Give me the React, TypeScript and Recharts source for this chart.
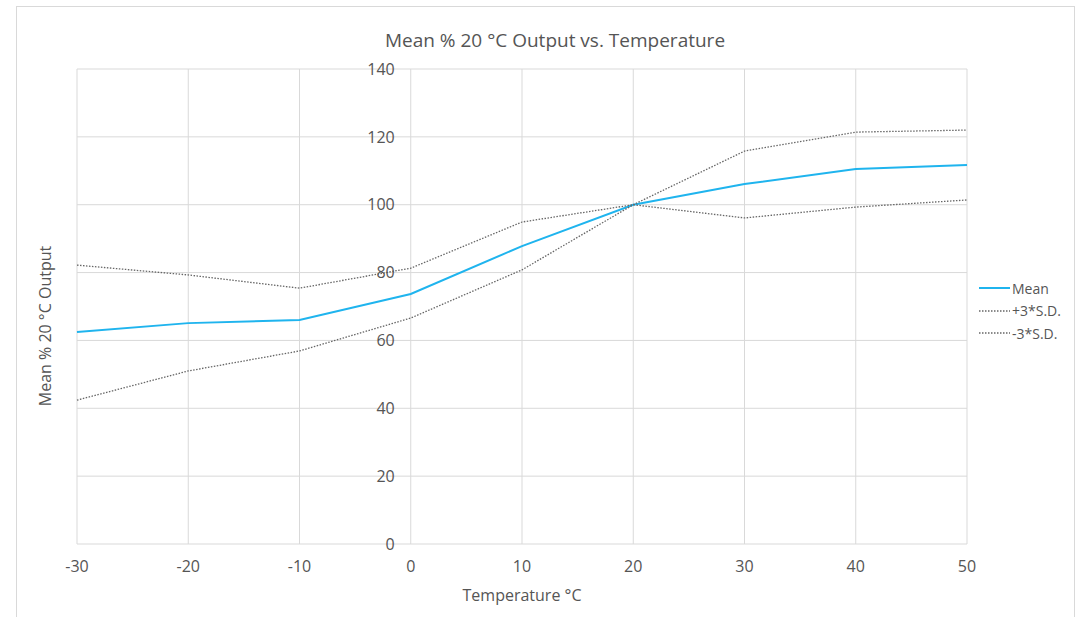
import {
  LineChart,
  Line,
  XAxis,
  YAxis,
  CartesianGrid,
  ReferenceDot,
} from "recharts";

const temps = [-30, -20, -10, 0, 10, 20, 30, 40, 50];
const meanVals = [62.5, 65.1, 66.0, 73.7, 87.8, 100, 106.1, 110.5, 111.7];
const plus3Vals = [82.2, 79.3, 75.4, 81.3, 94.9, 100, 96.1, 99.3, 101.4];
const minus3Vals = [42.4, 51.0, 56.9, 66.6, 80.8, 100, 115.8, 121.4, 122.0];
const xTicks = [-30, -20, -10, 0, 10, 20, 30, 40, 50];
const yTicks = [0, 20, 40, 60, 80, 100, 120, 140];

const data = temps.map((t, i) => ({
  t,
  mean: meanVals[i],
  plus3: plus3Vals[i],
  minus3: minus3Vals[i],
}));

const FONT = "'Open Sans', 'DejaVu Sans', sans-serif";
const TEXT = "#555555";
const GRID = "#d9d9d9";
const BLUE = "#1fb4ee";
const DOT = "#666666";

const SERIES = [
  { key: "mean", name: "Mean", color: BLUE, dash: undefined as string | undefined },
  { key: "plus3", name: "+3*S.D.", color: DOT, dash: "1.5 1.5" },
  { key: "minus3", name: "-3*S.D.", color: DOT, dash: "1.5 1.5" },
];

function LegendBox() {
  return (
    <div style={{ fontFamily: FONT, fontSize: 14, color: TEXT }}>
      {SERIES.map((s) => (
        <div key={s.key} style={{ display: "flex", alignItems: "center", height: 22.5 }}>
          <svg width={32} height={10}>
            <line
              x1={0}
              y1={5}
              x2={31}
              y2={5}
              stroke={s.color}
              strokeWidth={s.dash ? 1.3 : 2}
              strokeDasharray={s.dash}
            />
          </svg>
          <span style={{ marginLeft: 1 }}>{s.name}</span>
        </div>
      ))}
    </div>
  );
}

export default function App() {
  return (
    <div
      style={{
        position: "absolute",
        left: 0,
        top: 0,
        width: 1077,
        height: 617,
        background: "#fff",
        overflow: "hidden",
      }}
    >
      <div
        style={{
          position: "absolute",
          left: 16,
          top: 6,
          width: 1057,
          height: 630,
          border: "1px solid #d9d9d9",
        }}
      />
      <div
        style={{
          position: "absolute",
          left: 0,
          width: 1110,
          top: 27,
          textAlign: "center",
          fontFamily: FONT,
          fontSize: 19,
          color: TEXT,
        }}
      >
        Mean % 20 °C Output vs. Temperature
      </div>
      <div
        style={{
          position: "absolute",
          left: 45,
          top: 326,
          transform: "translate(-50%, -50%) rotate(-90deg)",
          whiteSpace: "nowrap",
          fontFamily: FONT,
          fontSize: 16,
          color: TEXT,
        }}
      >
        Mean % 20 °C Output
      </div>
      <div style={{ position: "absolute", left: 0, top: 0 }}>
        <LineChart
          width={1077}
          height={617}
          data={data}
          margin={{ top: 69, right: 110, bottom: 13, left: 77 }}
        >
          <CartesianGrid stroke={GRID} strokeWidth={1} />
          <XAxis
            dataKey="t"
            type="number"
            domain={[-30, 50]}
            ticks={xTicks}
            axisLine={false}
            tickLine={false}
            tickSize={0}
            tickMargin={17}
            height={60}
            tick={{ fill: TEXT, fontSize: 16, fontFamily: FONT }}
            label={{
              value: "Temperature °C",
              position: "insideBottom",
              offset: 3,
              fill: TEXT,
              fontSize: 16,
              fontFamily: FONT,
            }}
          />
          <YAxis type="number" domain={[0, 140]} ticks={yTicks} hide />
          {yTicks.map((v) => (
            <ReferenceDot
              key={v}
              x={0}
              y={v}
              r={0}
              fill="none"
              stroke="none"
              ifOverflow="visible"
              label={{
                value: String(v),
                position: "left",
                offset: 16,
                fill: TEXT,
                fontSize: 16,
                fontFamily: FONT,
              }}
            />
          ))}
          {SERIES.map((s) => (
            <Line
              key={s.key}
              dataKey={s.key}
              name={s.name}
              type="linear"
              stroke={s.color}
              strokeWidth={s.dash ? 1.3 : 2}
              strokeDasharray={s.dash}
              dot={false}
              activeDot={false}
              isAnimationActive={false}
            />
          ))}
        </LineChart>
      </div>
      <div style={{ position: "absolute", left: 979, top: 277 }}>
        <LegendBox />
      </div>
    </div>
  );
}
